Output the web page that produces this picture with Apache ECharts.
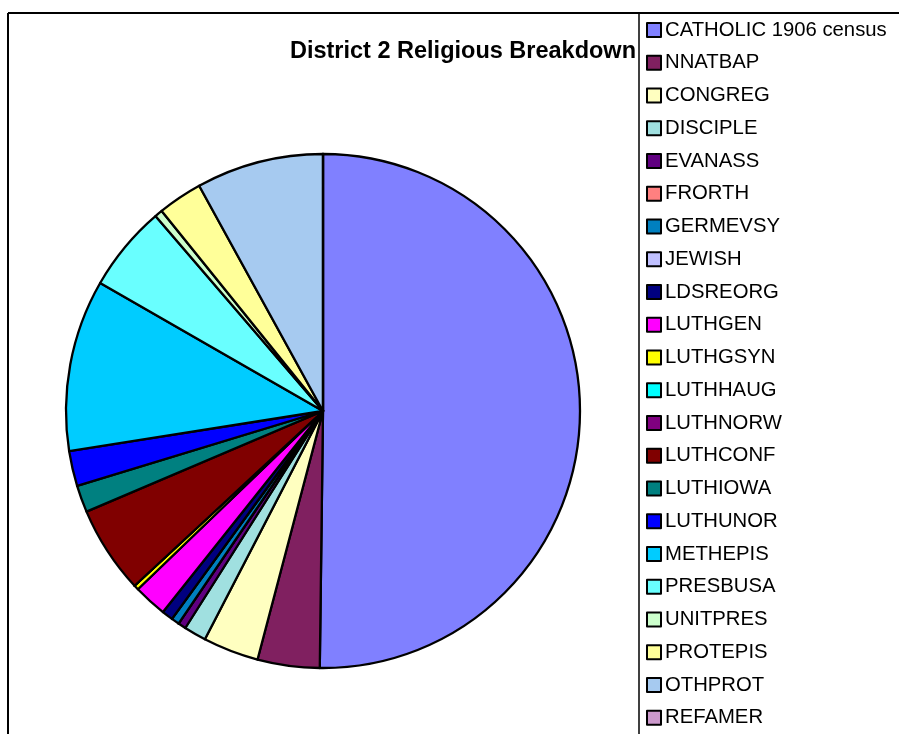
<!DOCTYPE html>
<html>
<head>
<meta charset="utf-8">
<script src="https://cdn.jsdelivr.net/npm/echarts@6/dist/echarts.min.js"></script>
<style>
  html, body { margin: 0; padding: 0; background: #fff; }
  #main { width: 899px; height: 734px; }
</style>
</head>
<body>
<div id="main"></div>
<script>
var names = ['CATHOLIC 1906 census', 'NNATBAP', 'CONGREG', 'DISCIPLE', 'EVANASS', 'FRORTH',
    'GERMEVSY', 'JEWISH', 'LDSREORG', 'LUTHGEN', 'LUTHGSYN', 'LUTHHAUG', 'LUTHNORW',
    'LUTHCONF', 'LUTHIOWA', 'LUTHUNOR', 'METHEPIS', 'PRESBUSA', 'UNITPRES', 'PROTEPIS',
    'OTHPROT', 'REFAMER'];
var values = [502, 39, 35, 14, 5, 0, 5, 0, 7, 21, 3, 0, 0, 55, 17, 22, 108, 54, 5, 28, 80, 0];
var colors = ['#8080FF', '#802060', '#FFFFC0', '#A0E0E0', '#600080', '#FF8080',
    '#0080C0', '#C0C0FF', '#000080', '#FF00FF', '#FFFF00', '#00FFFF', '#800080',
    '#800000', '#008080', '#0000FF', '#00CCFF', '#69FFFF', '#CCFFCC', '#FFFF99',
    '#A6CAF0', '#CC99CC'];
var chartTitle = 'District 2 Religious Breakdown';

var myChart = echarts.init(document.getElementById('main'));

var pieData = [];
for (var i = 0; i < names.length; i++) {
    pieData.push({ name: names[i], value: values[i] });
}

var option = {
    animation: false,
    color: colors,
    textStyle: { fontFamily: 'Liberation Sans, Arial, sans-serif' },
    title: {
        text: chartTitle,
        right: 263,
        top: 40,
        padding: 0,
        textStyle: {
            color: '#000',
            fontSize: 23.5,
            fontWeight: 'bold',
            fontFamily: 'Liberation Sans, Arial, sans-serif'
        }
    },
    legend: {
        orient: 'vertical',
        left: 646,
        top: 20,
        padding: 0,
        itemWidth: 14,
        itemHeight: 14,
        itemGap: 12.75,
        icon: 'rect',
        selectedMode: false,
        itemStyle: { borderColor: '#000', borderWidth: 2 },
        textStyle: {
            color: '#000',
            fontSize: 20.3,
            padding: [0, 0, 0, -1],
            fontFamily: 'Liberation Sans, Arial, sans-serif'
        },
        data: names
    },
    graphic: [
        { type: 'line', shape: { x1: 8, y1: 13, x2: 899, y2: 13 }, style: { stroke: '#000', lineWidth: 2 } },
        { type: 'line', shape: { x1: 8, y1: 13, x2: 8, y2: 734 }, style: { stroke: '#000', lineWidth: 2 } },
        { type: 'line', shape: { x1: 639, y1: 13, x2: 639, y2: 734 }, style: { stroke: '#000', lineWidth: 1.5 } }
    ],
    series: [{
        type: 'pie',
        center: [323, 411],
        radius: 257,
        startAngle: 90,
        clockwise: true,
        avoidLabelOverlap: false,
        label: { show: false },
        labelLine: { show: false },
        emphasis: { disabled: true },
        itemStyle: {
            borderColor: '#000',
            borderWidth: 2.3
        },
        data: pieData
    }]
};

myChart.setOption(option);
</script>
</body>
</html>
